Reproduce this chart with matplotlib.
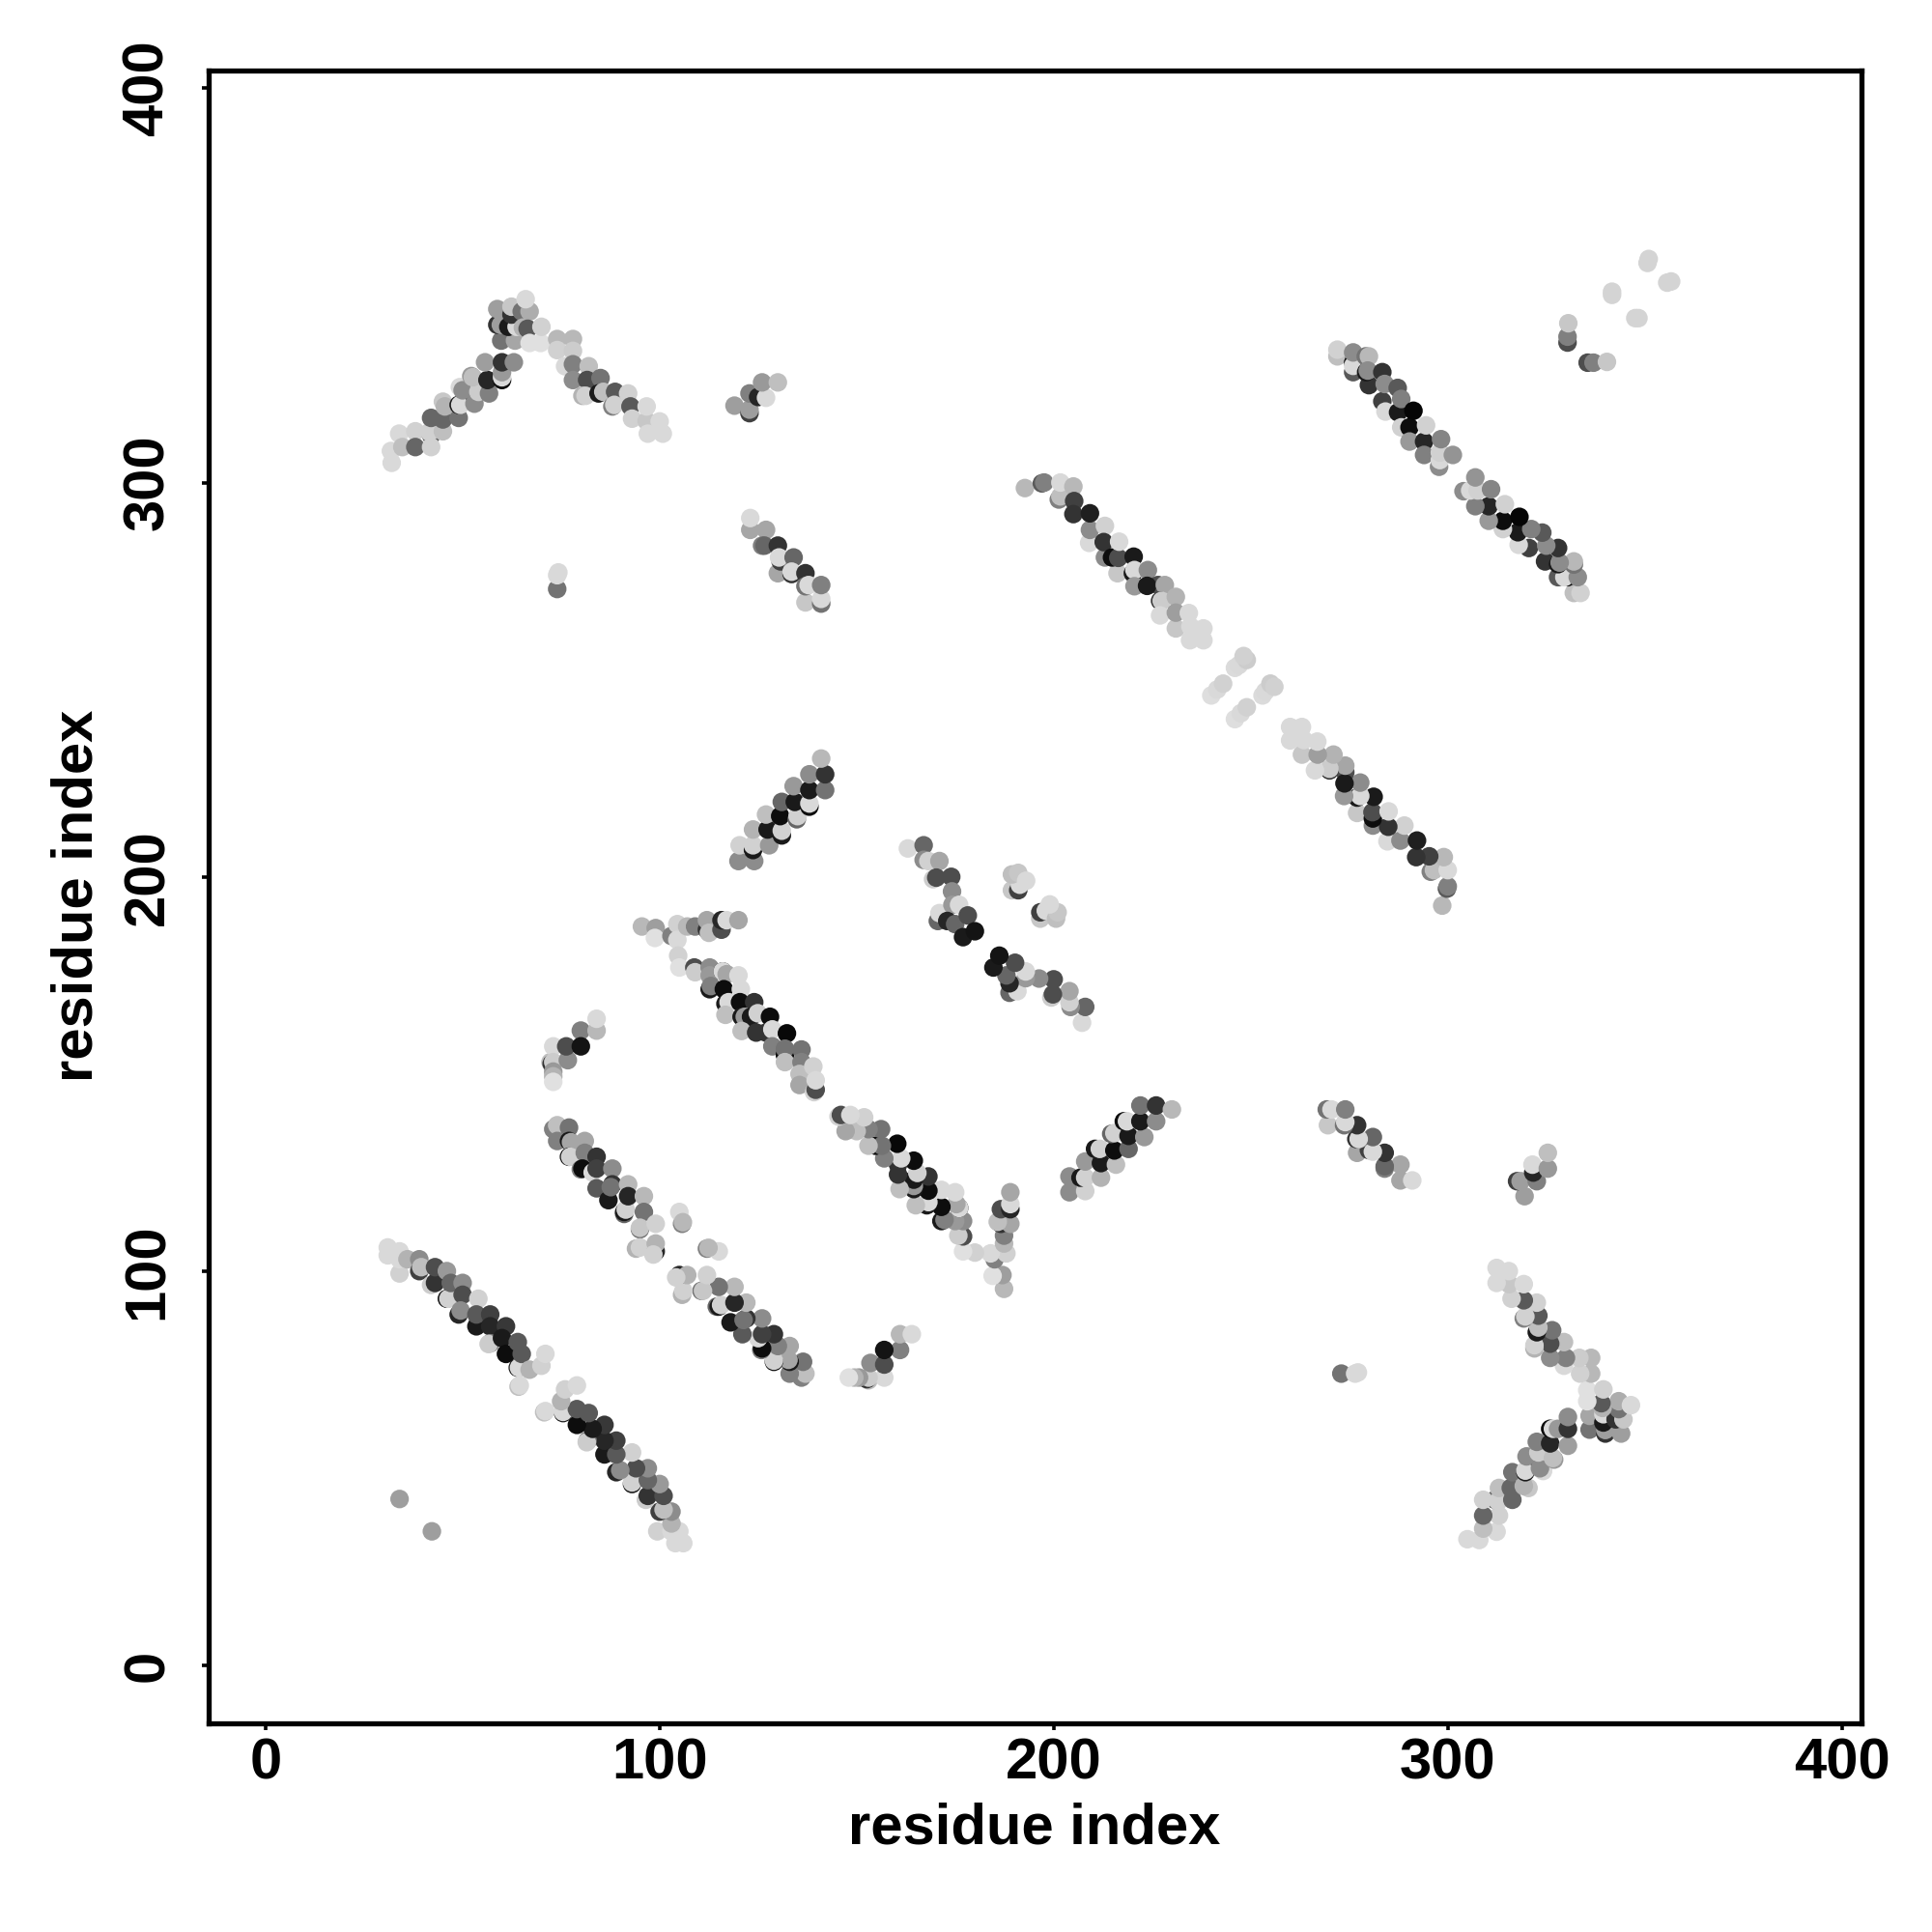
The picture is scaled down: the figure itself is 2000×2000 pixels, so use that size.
import matplotlib
matplotlib.use("Agg")
import matplotlib.pyplot as plt

# Contact map: each list holds (residue_i, residue_j, grey level), i < j.
# The map is symmetric, so each contact is drawn at (i, j) and (j, i).
band_a = [
 (31,106,.85),(31,104,.85),(34,99.4,.82),(34,103,.85),(34,105,.85),(36,103,.7),(39,100,.25),(39,103,.55),
 (39.5,101,.75),(42,96.5,.8),(43,97,.2),(43,101,.3),(46,100,.6),(46,93,.1),(46.4,93,.82),(47,97,.4),(50,97,.55),
 (49,89,.15),(50,94,.3),(49.5,90,.55),(54,93,.82),(53.5,86,.1),(53.5,89,.35),(57,89,.25),(57,86,.15),
 (57,81.7,.45),(56.6,81.5,.8),(61,86,.22),(60,83,.1),(61,79,.05),(64,75.5,.1),(64.3,75.5,.85),(64,82,.35),
 (65,79,.35),(64.2,70.7,.75),(64.5,71,.85),(67,75,.7),(70,76,.82),(71,79,.85),
]
band_b = [
 (73,136,.5),(74,137,.75),(77,136.4,.45),(74,133,.5),(77,133,.1),(77.5,132.7,.65),(81,133,.65),(77,129,.05),
 (77.3,129,.82),(81,130,.5),(84,129,.2),(80,125.8,.5),(80.4,126,.05),(83,125,.85),(84,126,.25),(88,126,.55),
 (84,121,.35),(87,118,.1),(88,122,.2),(87.6,121.3,.45),(92,122,.72),(91,114.5,.4),(91,115,.1),(91.4,115.6,.82),
 (92,119,.15),(96,119,.72),(96,115,.45),(95,110.6,.45),(95,111,.78),(99,112,.82),(94,105.7,.7),(95,106,.82),
 (99,105,.15),(99,107,.7),(98.4,104.2,.82),
 (105.7,112,.5),(105,115,.85),(105.9,112.4,.72),
]
loop_c = [
 (72.3,153,.75),(72.6,152.6,.2),(73,157,.85),(73,153,.8),(73,150.6,.6),(73,149.4,.7),(73,148,.88),
 (76.7,153.5,.55),(76.3,157,.3),(80,161,.5),(80,157,.08),(84,161,.72),(84,164,.85),
]
row_d = [
 (95.5,187.4,.72),(99,187,.62),(98.8,184.5,.88),(103,185,.5),(104.5,188,.82),(104.5,184,.85),(107,187.4,.72),
 (109,187.4,.5),(112,186.6,.2),(112,189,.65),(112.5,185.8,.75),(115.7,186.6,.3),(115.7,189,.15),(117,189,.85),(120,189,.65),
]
band_e = [
 (104.7,180,.82),(105,177,.88),(108.8,177,.3),(109,175.8,.8),(112.7,177,.55),(112.7,175,.6),(112.7,171.5,.1),(113,172.3,.5),
 (116,176,.1),(116,176,.85),(117,175.3,.65),(120,175,.85),(116.3,171.5,.05),(120.6,171.5,.85),(116.7,167.8,.1),
 (117.5,168.2,.85),(120.4,168.2,.05),(124,168.2,.2),(116.7,165,.75),(120.8,164.5,.1),(121.6,164.5,.6),(123.2,164.5,.1),
 (124.9,165.4,.82),(128,164.5,.05),(120.8,160.9,.75),(124.5,160.5,.2),(127,160.5,.2),(128.6,161.3,.85),(132.3,160.3,.03),
 (128.6,157,.5),(131.8,154.8,.05),(131.8,156.4,.45),(136,156.2,.45),(131.8,153,.75),(136,153,.5),(135.5,150,.75),
 (139,151.9,.82),(135.5,147.2,.65),(139.2,145.4,.82),(139.6,146,.3),(139.6,148.4,.85),
]
band_f = [
 (120,204,.55),(124,204,.55),(120.3,208,.82),(123.7,206.8,.1),(123.7,208,.82),(123.7,212,.7),(127.8,208,.6),
 (127.4,212,.1),(127,215.8,.75),(131,210.5,.1),(131,211.7,.82),(130.6,215.4,.05),(131,219,.4),(134.8,214.6,.4),
 (135,215.4,.82),(134.3,219,.1),(134,223,.6),(138,217.8,.05),(138,218.6,.85),(138,222,.1),(138,226,.55),
 (142,222,.45),(142,226,.2),(141,230,.72),
]
band_g = [
 (119,319.5,.62),(122.8,317.6,.25),(122.8,318.5,.62),(122.8,322.6,.5),(125,321.7,.15),(127,321.5,.85),(126,325.4,.6),(130,325.4,.75),
]
band_h = [
 (32,305,.85),(31.8,308,.85),(33.9,312.4,.85),(34.7,309,.75),(38,313,.82),(38,309,.4),(42,312,.35),(41.6,312.8,.82),
 (42,309,.82),(45,313,.75),(42,316.4,.4),(45,316,.4),(49,316.4,.45),(45,320.5,.78),(45.5,319.3,.7),(49,319.7,.1),
 (49.4,319.7,.85),(53,322,.15),(53,320,.55),(49.3,324.2,.85),(50,323.4,.55),(54,323,.8),(56.7,322.6,.5),
 (52.2,327,.6),(52.6,326.7,.75),(56.3,326,.15),(60,326,.05),(60,326.7,.85),(60,328,.6),(55.7,330.5,.62),(60,330.5,.2),(63,330.5,.55),
]
peak_i = [
 (59.8,336,.45),(58.8,340,.2),(59.7,340,.62),(58.8,344,.62),(63.3,336,.65),(61.6,339.5,.1),(63.7,339.5,.85),(62.4,342.6,.2),
 (62.4,344.6,.78),(65,343.4,.45),(67,343.4,.68),(66,346.5,.85),(65.3,339.3,.7),(66.5,339,.35),(67,335.4,.88),(69.8,335.4,.88),(70,339.5,.82),
]
band_j = [
 (74,336.4,.72),(78,336.4,.72),(74,333.6,.82),(78,333.4,.8),(76,329.5,.85),(78,330,.5),(82,329.5,.75),(78,326,.55),
 (81.6,326,.3),(85,326.5,.45),(80.4,322,.7),(81.2,322,.82),(84.5,322.6,.1),(85.7,323,.75),(88.7,323,.35),(88,319.3,.5),
 (88.5,319.7,.82),(92,322.6,.82),(92.6,319.3,.35),(93,316.2,.82),(96.7,315.6,.78),(96.7,319.3,.85),(97,312.4,.85),(100,315.5,.85),(100.8,312.4,.85),
]
band_k = [
 (123,288,.65),(123,291,.85),(127,288,.65),(126,284,.5),(126.6,284,.4),(130,284,.2),(130,277,.65),(130.7,280,.25),
 (130.3,281,.85),(134,281,.4),(133.5,276.8,.2),(133.5,277.4,.85),(137,277,.2),(137,269.6,.78),(137,273.7,.45),
 (137.8,274,.85),(141,269.3,.45),(141,270.5,.85),(141,274,.5),
]
band_l = [
 (192.7,298.6,.72),(197,299.8,.35),(197.6,300,.5),(201.3,295.7,.5),(201.7,296.5,.75),(201.7,300,.85),(205,299,.72),
 (205.2,295.3,.25),(205,292,.2),(209,284.7,.85),(209.2,288,.55),(209.2,292.2,.12),(213,289,.82),(213,281,.55),(212.7,284.9,.2),
 (216.2,277,.78),(214.8,281,.05),(216.4,280.9,.3),(216.6,285,.85),(220.1,277,.1),(220.3,281.2,.1),(220.5,277.8,.85),
 (220.5,273.7,.6),(223.9,277.8,.55),(226.5,274,.3),(223.7,273.8,.1),(228.2,274,.65),(227,270,.2),(227.4,270,.8),(231,271,.7),
 (227,266.3,.85),(231,263,.78),(231,267,.62),(234.3,266.9,.85),(234.6,260,.85),(234.7,263.5,.85),(238,263,.85),(238,260,.85),
]
center_m = [
 (240,246,.87),(241.5,247.5,.85),(243,249,.82),(246,253,.86),(247,253.7,.85),(249,255,.8),(248.2,256,.82),
]
band_n = [
 (163,207.2,.85),(167,208,.4),(167,204.3,.55),(168.2,204,.82),(171,204,.65),(169.4,199.4,.8),(170.2,199.8,.3),(174,200,.3),
 (174.2,196.3,.55),(170.6,188.8,.4),(171,190.8,.85),(174.3,192.9,.6),(176,192.9,.85),(173,188.8,.15),(175,188,.4),
 (177,184.7,.1),(178.2,190.2,.3),(180,186.2,.08),
]
center_o = [
 (189.4,196.6,.78),(191,196.6,.25),(191.4,198,.85),(189.4,200.6,.75),(191,201,.78),(193,199,.85),
]
band_p = [
 (272,332,.75),(272,333.7,.82),(276,328,.35),(276,330.4,.05),(276,329.6,.85),(276,333,.55),(279.2,332,.45),(280,332,.72),
 (280,324.7,.2),(279.3,328,.1),(279.7,328.4,.55),(283.4,328,.2),(283.4,320.6,.25),(284,325,.55),(284.2,318,.85),
 (287.4,317.8,.1),(287.3,324,.35),(288.2,321.2,.5),(288.2,314,.82),(290.3,314,.05),(291.3,318.2,.02),(290.3,310.4,.6),
 (294,310.4,.15),(294,307,.5),(294.5,314.5,.82),(297.8,304,.55),(298,305.7,.85),(298,307.6,.82),(298.3,311,.52),(301.3,307,.58),
]
near_diag_q = [
 (330.4,335.5,.3),(330.4,337,.5),(330.6,340.4,.78),(341.7,347.6,.83),(341.7,348.4,.83),(350.7,355.7,.83),(351,356.7,.83),
]
single_r = [(34,42.2,.62),(74,273,.45),(74,276.5,.85),(74.3,277.2,.85)]

clusters = [band_a, band_b, loop_c, row_d, band_e, band_f, band_g, band_h, peak_i, band_j,
            band_k, band_l, center_m, band_n, center_o, band_p, near_diag_q, single_r]
x_ticks = [0, 100, 200, 300, 400]
y_ticks = [0, 100, 200, 300, 400]
x_label = "residue index"
y_label = "residue index"

plt.rcParams['font.family'] = ['Liberation Sans', 'DejaVu Sans']
plt.rcParams['font.weight'] = 'bold'

fig = plt.figure(figsize=(10, 10), dpi=200, facecolor='white')
W = H = 2000.0
ax = fig.add_axes([216/W, 1 - 1784/H, (1927-216)/W, (1784-73)/H])

for cluster in clusters:
    i = [p[0] for p in cluster]
    j = [p[1] for p in cluster]
    g = [str(p[2]) for p in cluster]
    ax.scatter(i + j, j + i, s=48, c=g + g, linewidths=0, zorder=2)

ax.set_xlim(-14.45, 405)
ax.set_ylim(-14.7, 404.5)
ax.set_xticks(x_ticks)
ax.set_yticks(y_ticks)
for s in ax.spines.values():
    s.set_linewidth(1.9)
ax.tick_params(axis='x', length=2.6, width=1.3, pad=2.5, labelsize=21.5)
ax.tick_params(axis='y', length=2.6, width=1.3, pad=10, labelsize=21.5)
for t in ax.get_yticklabels():
    t.set_rotation(90)
    t.set_va('center')
ax.set_xlabel(x_label, fontsize=21.5, fontweight='bold', va='center')
ax.set_ylabel(y_label, fontsize=21.5, fontweight='bold', va='center')
ax.xaxis.set_label_coords(1071/W, 1 - 1893/H, transform=fig.transFigure)
ax.yaxis.set_label_coords(80/W, 1 - 927/H, transform=fig.transFigure)

fig.savefig("out.png", dpi=200, facecolor='white')
